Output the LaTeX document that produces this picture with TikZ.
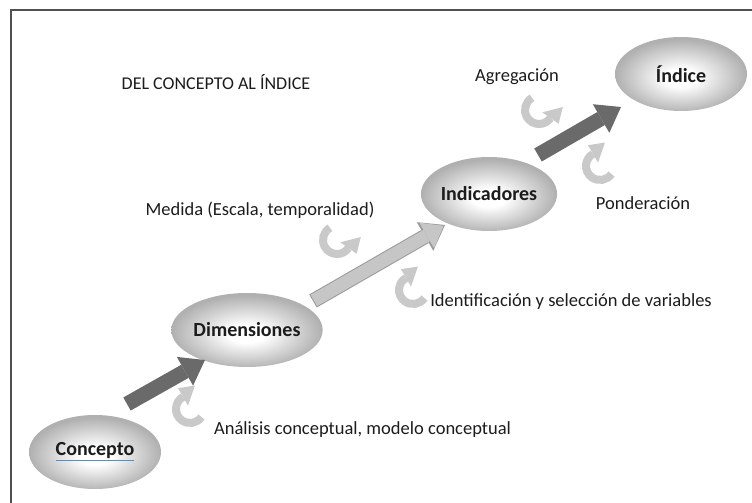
\documentclass[tikz,border=0pt]{standalone}
\usepackage{fontspec}
\setmainfont{Carlito}
\usetikzlibrary{shapes.geometric,arrows.meta}

\definecolor{framegray}{HTML}{505050}
\definecolor{darkarrow}{HTML}{6A6A6A}
\definecolor{lightarrow}{HTML}{C6C6C6}
\definecolor{lightedge}{HTML}{999999}
\definecolor{turngray}{HTML}{C9C9C9}
\definecolor{ovaledge}{HTML}{B0B0B0}
\definecolor{textgray}{HTML}{1C1C1C}
\definecolor{linkblue}{HTML}{6B8CA8}

\pgfdeclareradialshading{ovalshade}{\pgfpoint{0bp}{-3bp}}{%
  color(0bp)=(white); color(6bp)=(white); color(25bp)=(ovaledge); color(50bp)=(ovaledge)}

\tikzset{
  oval/.style={ellipse, shade, shading=ovalshade, minimum width=132pt,
    minimum height=74pt, inner sep=0pt, text=textgray,
    font=\fontsize{20}{22}\selectfont\bfseries},
  lbl/.style={text=textgray, inner sep=0pt, font=\fontsize{18.5}{20}\selectfont},
  bigarrow/.style={line width=15pt, -{Triangle[length=23pt,width=33pt,line width=0pt]}},
  turnband/.style={draw=turngray, line width=8pt},
}

\begin{document}
\begin{tikzpicture}[x=1pt, y=1pt]
  \useasboundingbox (0,0) rectangle (752,503);
  \draw[framegray, line width=1.4pt] (11,0) -- (11,493) -- (752,493);

  \node[lbl, font=\fontsize{18}{20}\selectfont] (title) at (216,421) {DEL CONCEPTO AL ÍNDICE};

  % ovals
  \node[oval] (cpt) at (95,51) {\textcolor{linkblue}{\underline{\textcolor{textgray}{Concepto}}}};
  \node[oval] (dim) at (247,173) {Dimensiones};
  \node[oval] (ind) at (489,309) {Indicadores};
  \node[oval] (idx) at (681,429) {Índice};

  % steps between the ovals
  \draw[bigarrow, darkarrow] ([shift={(32,48)}]cpt.center) -- ([shift={(-42,-30)}]dim.center);
  \draw[bigarrow, lightedge] ([shift={(66,29)}]dim.center) -- ([shift={(-44,-31)}]ind.center);
  \draw[lightarrow, line width=13pt, shorten <=1pt, shorten >=1.6pt,
    -{Triangle[length=19.5pt,width=29.5pt,line width=0pt]}]
    ([shift={(66,29)}]dim.center) -- ([shift={(-44,-31)}]ind.center);
  \draw[bigarrow, darkarrow] ([shift={(49,39)}]ind.center) -- ([shift={(-60,-33)}]idx.center);

  % turning arrows
  \foreach \cx/\cy in {190/94, 413/213, 600/337} {
    \begin{scope}[shift={(\cx,\cy)}]
      \draw[turnband] (-35:14) arc[start angle=-35, end angle=-240, radius=14];
      \fill[turngray] (120:4) -- (120:24) -- (78:24) -- cycle;
    \end{scope}
  }
  \foreach \cx/\cy in {337/263, 539/393} {
    \begin{scope}[shift={(\cx,\cy)}]
      \draw[turnband] (120:14) arc[start angle=120, end angle=325, radius=14];
      \fill[turngray] (-35:4) -- (-35:24) -- (7:24) -- cycle;
    \end{scope}
  }

  % labels
  \node[lbl, anchor=west] (lana) at (214,73) {Análisis conceptual, modelo conceptual};
  \node[lbl] (lide) at (571,201) {Identificación y selección de variables};
  \node[lbl] (lmed) at (260,293) {Medida (Escala, temporalidad)};
  \node[lbl] (lagr) at (517,426) {Agregación};
  \node[lbl] (lpon) at (643,300) {Ponderación};
\end{tikzpicture}
\end{document}
